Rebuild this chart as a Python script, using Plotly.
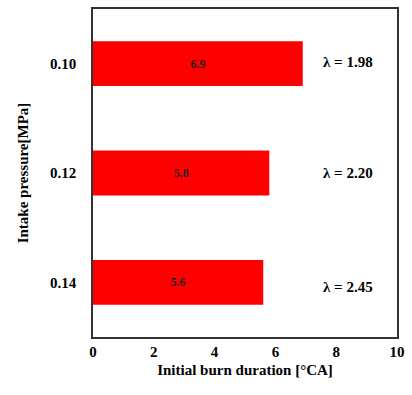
import plotly.graph_objects as go

pressures = ["0.10", "0.12", "0.14"]
durations = [6.9, 5.8, 5.6]
duration_labels = ["6.9", "5.8", "5.6"]
lambdas = ["λ = 1.98", "λ = 2.20", "λ = 2.45"]
x_ticks = [0, 2, 4, 6, 8, 10]

FONT = "Times New Roman, Liberation Serif, serif"

fig = go.Figure()
fig.add_trace(go.Bar(
    x=durations, y=pressures, orientation="h",
    marker=dict(color="#ff0000", line=dict(width=0)),
    width=0.41,
    text=duration_labels,
    textposition="inside", insidetextanchor="middle",
    textfont=dict(family=FONT, size=12, color="#222222", weight="bold"),
    constraintext="none",
    cliponaxis=False,
))

shifts = [2, 0, -5]
for i, (lam, s) in enumerate(zip(lambdas, shifts)):
    fig.add_annotation(x=8.4, y=i, xref="x", yref="y", text=lam, showarrow=False,
                       font=dict(family=FONT, size=15, color="black", weight="bold"),
                       xanchor="center", yanchor="middle", yshift=s)

tf = dict(family=FONT, size=15, color="black", weight="bold")
fig.update_layout(
    width=412, height=395,
    margin=dict(l=93, r=13, t=7, b=58),
    paper_bgcolor="white", plot_bgcolor="white",
    showlegend=False,
    font=dict(family=FONT, color="black"),
    xaxis=dict(range=[0, 10], tickvals=x_ticks, ticks="", showgrid=False,
               zeroline=False, showline=True, linecolor="#333", linewidth=1.5,
               mirror=True, tickfont=tf,
               title=dict(text="Initial burn duration [°CA]", font=tf, standoff=6)),
    yaxis=dict(type="category", categoryorder="array", categoryarray=pressures,
               range=[2.5, -0.5], ticks="", showgrid=False, zeroline=False,
               showline=True, linecolor="#333", linewidth=1.5, mirror=True,
               tickfont=tf, ticklabelstandoff=12,
               title=dict(text="Intake pressure[MPa]", font=tf, standoff=18)),
)

fig.write_html("out.html")
